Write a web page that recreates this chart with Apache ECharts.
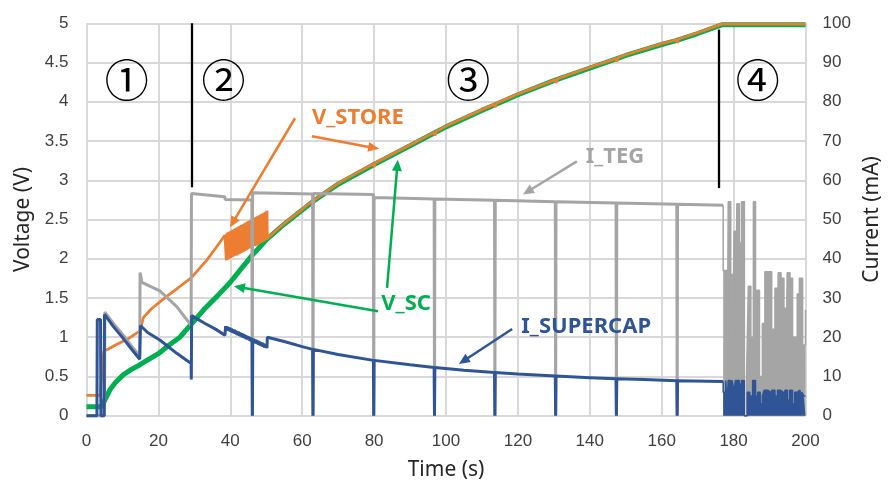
<!DOCTYPE html>
<html><head><meta charset="utf-8">
<script src="https://cdn.jsdelivr.net/npm/echarts@6.0.0/dist/echarts.min.js"></script>
<style>html,body{margin:0;padding:0;background:#fff}#c{width:892px;height:489px}</style>
</head><body><div id="c"></div>
<script>
// ---------- data (time in s, voltage in V, current in mA) ----------
const V_SC = [[0,0.115],[4.2,0.115],[6.5,0.33],[8,0.42],[10.2,0.52],[12.5,0.59],[14.9,0.65],[17,0.71],[20,0.79],[23,0.9],[26,1.0],[29.2,1.17],[30.2,1.22],[33,1.37],[36.5,1.53],[40,1.70],[43,1.87],[46,2.04],[48,2.14],[50.2,2.25],[55,2.44],[60,2.62],[63,2.73],[70,2.95],[80,3.2],[90,3.44],[96.6,3.6],[100,3.68],[110,3.89],[113.5,3.96],[120,4.09],[130,4.27],[140,4.43],[147,4.54],[150,4.59],[160,4.73],[164,4.78],[170,4.87],[176.7,4.98],[200,4.98]];

const V_STORE = [[0,0.26],[3.8,0.26],[4.8,0.82],[6.1,0.85],[8.5,0.91],[11.2,0.97],[14.9,1.08],[15.8,1.25],[18,1.36],[22.3,1.52],[25.5,1.63],[29.2,1.76],[33.4,1.98],[36,2.14],[38.5,2.30],
 [38.9,1.98],[39.1,2.33],[39.3,1.99],[39.5,2.34],[39.7,2.00],[39.9,2.35],[40.1,2.01],[40.3,2.36],[40.5,2.02],[40.7,2.37],[40.9,2.03],[41.1,2.38],[41.3,2.04],[41.5,2.39],[41.7,2.04],[41.9,2.40],[42.1,2.05],[42.3,2.41],[42.5,2.06],[42.7,2.42],[42.9,2.07],[43.1,2.43],[43.3,2.08],[43.5,2.44],[43.7,2.09],[43.9,2.45],[44.1,2.10],[44.3,2.46],[44.5,2.11],[44.7,2.47],[44.9,2.12],[45.1,2.48],[45.3,2.13],[45.5,2.49],[45.7,2.14],[45.9,2.50],[46.1,2.15],[46.3,2.51],[46.5,2.16],[46.7,2.52],[46.9,2.16],[47.1,2.53],[47.3,2.17],[47.5,2.54],[47.7,2.18],[47.9,2.55],[48.1,2.19],[48.3,2.56],[48.5,2.20],[48.7,2.57],[48.9,2.21],[49.1,2.58],[49.3,2.22],[49.5,2.59],[49.7,2.23],[49.9,2.60],[50.1,2.24],[50.2,2.61],
 [50.3,2.26],[55,2.45],[60,2.63],[62.9,2.74],[63.1,2.70],[63.4,2.75],[70,2.96],[79.8,3.21],[80.0,3.17],[80.3,3.22],[90,3.45],[96.7,3.61],[96.9,3.57],[97.2,3.62],[100,3.69],[110,3.90],[113.5,3.97],[113.7,3.93],[114,3.98],[120,4.10],[130.4,4.28],[130.6,4.24],[130.9,4.29],[140,4.44],[147.3,4.55],[147.5,4.51],[147.8,4.56],[150,4.60],[160,4.74],[164.2,4.79],[164.4,4.75],[164.7,4.80],[170,4.88],[176.7,4.99],[200,4.99]];

const I_TEG = [[0,0],[5.0,0],[5.1,26.4],[7.5,23.5],[10.2,20.5],[12.5,17.8],[14.8,15.2],[14.9,36.5],[15.4,34],[20.4,31.8],[25.1,27.8],[29.1,23],[29.2,56.6],[38.4,55.8],[38.6,55.1],[46.0,55.0],[46.1,0],[46.2,56.8],[62.9,56.5],[63.0,0],[63.1,56.6],[79.8,56.4],[79.9,0],[80.0,55.6],[96.7,55.2],[96.8,0],[96.9,55.2],[113.5,54.9],[113.6,0],[113.7,54.9],[130.4,54.5],[130.5,0],[130.6,54.5],[147.3,54.2],[147.4,0],[147.5,54.2],[164.2,53.9],[164.3,0],[164.4,53.9],[177.1,53.6]];

const I_TEG_BURST = [[177.1,53.6],[177.1,37],[178.3,20],[178.5,54.5],[179.2,36],[179.8,15],[180.1,47],[180.7,30],[180.9,54],[181.6,44],[182.2,54.5],[183.0,0],[183.6,10],[184.1,33],[184.8,20],[185.5,54.5],[186.1,20],[186.4,32],[187.2,10],[188.0,23.5],[188.7,36.7],[190.6,22],[191.5,32.5],[192.2,15],[192.4,36.4],[193.2,35],[194.0,27.4],[194.6,12],[194.9,36.4],[195.7,35],[196.4,20],[197.7,31],[198.3,35],[199.2,10],[199.4,18],[200,27]];

const I_SUPERCAP = [[0,0],[2.9,0],[3.0,24.5],[3.9,24.5],[4.0,0],[4.9,0],[5.0,25.8],[7.5,22.7],[10.2,19.7],[12.5,17.0],[14.8,14.4],[15.0,23.0],[17,21.2],[20.4,19.3],[25.1,15.9],[29.1,13.3],[29.15,9.2],[29.25,25.5],[33,23.5],[36,22],[38.5,20.5],[38.7,22.8],
 [38.9,21.9],[39.1,22.7],[39.3,21.7],[39.5,22.5],[39.7,21.6],[39.9,22.4],[40.1,21.4],[40.3,22.2],[40.5,21.2],[40.7,22.0],[40.9,21.1],[41.1,21.9],[41.3,20.9],[41.5,21.7],[41.7,20.7],[41.9,21.5],[42.1,20.5],[42.3,21.4],[42.5,20.4],[42.7,21.2],[42.9,20.2],[43.1,21.0],[43.3,20.0],[43.5,20.9],[43.7,19.9],[43.9,20.7],[44.1,19.7],[44.3,20.5],[44.5,19.5],[44.7,20.3],[44.9,19.4],[45.1,20.2],[45.3,19.2],[45.5,20.0],[45.7,19.0],[45.9,19.8],[46.05,19.0],[46.15,0],[46.25,19.6],[46.3,18.8],[46.5,19.6],[46.7,18.6],[46.9,19.4],[47.1,18.4],[47.3,19.3],[47.5,18.3],[47.7,19.1],[47.9,18.1],[48.1,18.9],[48.3,17.9],[48.5,18.7],[48.7,17.8],[48.9,18.6],[49.1,17.6],[49.3,18.4],[49.5,17.4],[49.7,18.2],[49.9,17.3],[50.1,18.0],[50.2,17.2],
 [50.3,20.0],[55,18.9],[60,17.6],[62.9,16.9],[63.0,0],[63.1,16.9],[70,15.6],[79.8,14.1],[79.9,0],[80.0,14.1],[90,13.0],[96.7,12.3],[96.8,0],[96.9,12.3],[105,11.6],[113.5,11.0],[113.6,0],[113.7,11.0],[120,10.6],[130.4,10.1],[130.5,0],[130.6,10.1],[140,9.7],[147.3,9.4],[147.4,0],[147.5,9.4],[155,9.2],[164.2,8.9],[164.3,0],[164.4,8.9],[177.1,8.7]];

const I_SUPERCAP_BURST = [[177.1,8.7],[177.1,6],[177.8,9],[178.2,3],[178.5,9],[179.2,6],[179.6,9],[180.1,6],[180.5,9],[181.6,8],[182.2,9],[183.0,0],[183.8,6],[184.5,5],[185.3,9],[186.1,5],[186.7,6],[187.4,3],[188.0,5],[188.5,6.5],[189.5,6],[190.2,4],[190.6,6.5],[191.5,5],[192.2,6.5],[193.0,6],[193.8,3],[194.3,6.5],[195.0,4],[195.6,6.5],[196.4,3],[197.0,6],[197.7,6.5],[198.5,4],[199.0,6],[199.5,5],[200,5]];

// phase separators: time, top voltage, bottom voltage
const PHASE_LINES = [[29.26,5.0,2.91],[49.65,5.02,2.71],[175.9,4.92,2.9]];
// phase markers: text, time, voltage
const PHASE_LABELS = [['①',11.2,4.28],['②',38.1,4.28],['③',106.2,4.28],['④',186.7,4.28]];
// series name labels: text, colour key, time, voltage
const NAME_LABELS = [['V_STORE','orange',75.5,3.80],['I_TEG','gray',147,3.30],['V_SC','green',88.9,1.43],['I_SUPERCAP','blue',139,1.13]];
// arrows: colour key, from [t,V], to [t,V]
const ARROWS = [['orange',[58.0,3.79],[39.9,2.40]],['orange',[62.7,3.56],[81.4,3.40]],['gray',[136.4,3.24],[121.4,2.82]],['green',[83.6,1.63],[86.6,3.26]],['green',[81.1,1.33],[41.0,1.65]],['blue',[118.4,1.105],[103.6,0.66]]];
// axis tick settings
const X_TICKS = {min:0,max:200,interval:20};
const V_TICKS = {min:0,max:5,interval:0.5};
const I_TICKS = {min:0,max:100,interval:10};

// ---------- styling ----------
const COL = {orange:'#ED7D31', green:'#00B050', gray:'#A5A5A5', blue:'#2F5597'};
const gridCol = '#D9D9D9';
const tickFont = {fontFamily:'Liberation Sans', fontSize:17, color:'#404040'};
const nameFont = {fontFamily:'Noto Sans', fontSize:21, color:'#262626'};

function lineSeries(name, data, color, width, yIdx, z, extra){
  return Object.assign({name, type:'line', data, yAxisIndex:yIdx, showSymbol:false, symbol:'none',
    lineStyle:{color, width}, itemStyle:{color}, z, clip:false, silent:true,
    emphasis:{disabled:true}}, extra||{});
}

const chart = echarts.init(document.getElementById('c'), null, {renderer:'canvas'});
chart.setOption({
  animation:false,
  backgroundColor:'#fff',
  grid:{left:86.5, right:86.5, top:23.3, bottom:73.3},
  xAxis:{type:'value', min:X_TICKS.min, max:X_TICKS.max, interval:X_TICKS.interval,
    name:'Time (s)', nameLocation:'middle', nameGap:44, nameTextStyle:nameFont,
    axisLine:{show:false}, axisTick:{show:false},
    axisLabel:Object.assign({margin:17}, tickFont),
    splitLine:{show:true, lineStyle:{color:gridCol, width:2}}},
  yAxis:[
    {type:'value', min:V_TICKS.min, max:V_TICKS.max, interval:V_TICKS.interval, position:'left',
     name:'Voltage (V)', nameLocation:'middle', nameGap:52, nameRotate:90, nameTextStyle:nameFont,
     axisLine:{show:false}, axisTick:{show:false},
     axisLabel:Object.assign({margin:18}, tickFont),
     splitLine:{show:true, lineStyle:{color:gridCol, width:2}}},
    {type:'value', min:I_TICKS.min, max:I_TICKS.max, interval:I_TICKS.interval, position:'right',
     name:'Current (mA)', nameLocation:'middle', nameGap:54, nameRotate:90, nameTextStyle:nameFont,
     axisLine:{show:false}, axisTick:{show:false},
     axisLabel:Object.assign({margin:17}, tickFont),
     splitLine:{show:false}}
  ],
  series:[
    lineSeries('V_SC', V_SC, COL.green, 5, 0, 2),
    lineSeries('V_STORE', V_STORE, COL.orange, 2.75, 0, 3),
    lineSeries('I_TEG', I_TEG, COL.gray, 3, 1, 4),
    lineSeries('I_TEG_burst', I_TEG_BURST, COL.gray, 1.5, 1, 4, {step:'end', areaStyle:{color:COL.gray, opacity:1}}),
    lineSeries('I_SUPERCAP', I_SUPERCAP, COL.blue, 3, 1, 5),
    lineSeries('I_SUPERCAP_burst', I_SUPERCAP_BURST, COL.blue, 1.5, 1, 5, {step:'end', areaStyle:{color:COL.blue, opacity:1}}),
    {name:'annotations', type:'line', data:[], yAxisIndex:0, z:10, silent:true,
     markLine:{silent:true, animation:false, symbol:'none', label:{show:false}, emphasis:{disabled:true},
       lineStyle:{color:'#000', width:2.3, type:'solid'},
       data: PHASE_LINES.map(p => [{coord:[p[0],p[1]]},{coord:[p[0],p[2]]}])
     },
     markPoint:{silent:true, animation:false, symbol:'rect', symbolSize:0,
       data: PHASE_LABELS.map(p => ({coord:[p[1],p[2]], value:0,
         label:{show:true, position:'inside', formatter:p[0], fontFamily:'Noto Sans CJK JP', fontSize:44, color:'#000'}}))
         .concat(NAME_LABELS.map(p => ({coord:[p[2],p[3]], value:0,
         label:{show:true, position:'inside', formatter:p[0], fontFamily:'Noto Sans', fontWeight:'bold', fontSize:22, color:COL[p[1]]}})))
     }
    }
  ]
});

// arrows: placed through the chart's own coordinate conversion
const els = [];
ARROWS.forEach(a => {
  const c = COL[a[0]];
  const p1 = chart.convertToPixel({xAxisIndex:0, yAxisIndex:0}, a[1]);
  const p2 = chart.convertToPixel({xAxisIndex:0, yAxisIndex:0}, a[2]);
  const dx = p2[0]-p1[0], dy = p2[1]-p1[1], L = Math.hypot(dx, dy), ux = dx/L, uy = dy/L;
  const hl = 11, hw = 5;
  const b = [p2[0]-ux*hl, p2[1]-uy*hl];
  els.push({type:'line', silent:true, z:100, shape:{x1:p1[0], y1:p1[1], x2:b[0]+ux*2, y2:b[1]+uy*2},
            style:{stroke:c, lineWidth:2.5}});
  els.push({type:'polygon', silent:true, z:100, shape:{points:[p2,[b[0]-uy*hw, b[1]+ux*hw],[b[0]+uy*hw, b[1]-ux*hw]]},
            style:{fill:c}});
});
chart.setOption({graphic:{elements:els}});
</script>
</body></html>
